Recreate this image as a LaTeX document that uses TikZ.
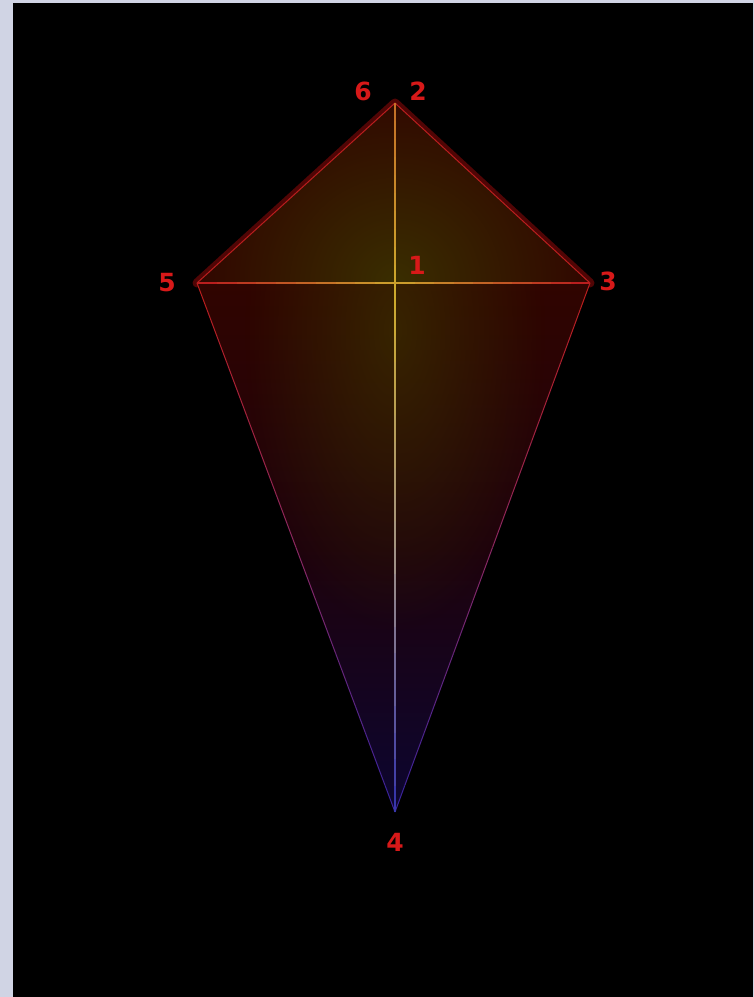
\documentclass[tikz,border=0pt]{standalone}
\usepackage{fontspec}
\setsansfont{DejaVu Sans}
\usetikzlibrary{calc, fadings}

\definecolor{FrameBlue}{RGB}{208,212,228}
\definecolor{NumRed}{RGB}{215,25,25}
\definecolor{EdgeRed}{RGB}{185,30,30}
\definecolor{EdgePink}{RGB}{135,40,100}
\definecolor{RimRed}{RGB}{80,5,5}
\definecolor{EdgeBlue}{RGB}{50,35,160}
\definecolor{SpineGold}{RGB}{205,170,45}
\definecolor{SpineGrey}{RGB}{160,145,135}
\definecolor{SpineBlue}{RGB}{45,45,175}
\definecolor{GlowOlive}{RGB}{58,46,0}
\definecolor{TopDark}{RGB}{48,4,0}
\definecolor{LowTop}{RGB}{48,4,0}
\definecolor{LowMid}{RGB}{30,2,12}
\definecolor{LowBot}{RGB}{12,6,48}

\tikzfading[name=glowfade, inner color=transparent!0, outer color=transparent!100]

\begin{document}
\begin{tikzpicture}[x=1pt, y=-1pt,
  num/.style={font=\sffamily\bfseries\fontsize{25}{25}\selectfont, text=NumRed, inner sep=0pt},
  rim/.style={draw=RimRed, line width=9pt, line cap=round, line join=round},
  edge/.style={draw=EdgeRed, line width=1pt}
]

% frame and screen
\useasboundingbox (0,0) rectangle (754,997);
\fill[FrameBlue] (0,0) rectangle (754,997);
\fill[black] (13,3) rectangle (753,997);

% kite corners
\coordinate (top) at (395,103);
\coordinate (left) at (197,283);
\coordinate (right) at (590,283);
\coordinate (mid) at (395,283);
\coordinate (bot) at (395,812);

% dark rim round the upper edges
\draw[rim] (left) -- (top) -- (right);

% upper panel
\begin{scope}
  \clip (top) -- (right) -- (left) -- cycle;
  \fill[TopDark] (left) rectangle (right |- top);
  \fill[GlowOlive, path fading=glowfade] (mid) circle (210);
\end{scope}

% lower panel
\begin{scope}
  \clip (left) -- (right) -- (bot) -- cycle;
  \shade[top color=LowTop, bottom color=LowBot, middle color=LowMid] (left) rectangle (right |- bot);
  \fill[GlowOlive, path fading=glowfade, opacity=0.75] (395,330) ellipse (150 and 300);
\end{scope}

% upper edges
\draw[edge] (left) -- (top) -- (right);

% lower edges and lower spine, red or gold fading to blue
\foreach \i in {0,...,19} {
  \pgfmathsetmacro{\a}{\i/20}
  \pgfmathsetmacro{\b}{(\i+1)/20}
  \pgfmathtruncatemacro{\mix}{min(100,max(0,100-10*\i))}
  \pgfmathtruncatemacro{\low}{min(100,max(0,200-10*\i))}
  \ifnum\i<10
    \def\edgecol{EdgeRed!\mix!EdgePink}
    \def\spinecol{SpineGold!\mix!SpineGrey}
  \else
    \def\edgecol{EdgePink!\low!EdgeBlue}
    \def\spinecol{SpineGrey!\low!SpineBlue}
  \fi
  \draw[line width=1pt, draw=\edgecol] ($(left)!\a!(bot)$) -- ($(left)!\b!(bot)$);
  \draw[line width=1pt, draw=\edgecol] ($(right)!\a!(bot)$) -- ($(right)!\b!(bot)$);
  \draw[line width=1.5pt, draw=\spinecol] ($(mid)!\a!(bot)$) -- ($(mid)!\b!(bot)$);
}

% cross bar and upper spine
\foreach \i in {0,...,9} {
  \pgfmathsetmacro{\a}{\i/10}
  \pgfmathsetmacro{\b}{(\i+1)/10}
  \pgfmathtruncatemacro{\mix}{10*\i}
  \draw[line width=1.5pt, draw=SpineGold!\mix!EdgeRed] ($(left)!\a!(mid)$) -- ($(left)!\b!(mid)$);
  \draw[line width=1.5pt, draw=SpineGold!\mix!EdgeRed] ($(right)!\a!(mid)$) -- ($(right)!\b!(mid)$);
  \pgfmathtruncatemacro{\up}{60+4*\i}
  \draw[line width=1.5pt, draw=SpineGold!\up!EdgeRed] ($(top)!\a!(mid)$) -- ($(top)!\b!(mid)$);
}

% corner numbers
\node[num] (n6) at (363,91) {6};
\node[num] (n2) at (418,91) {2};
\node[num] (n5) at (167,283) {5};
\node[num] (n1) at (417,265) {1};
\node[num] (n3) at (608,281) {3};
\node[num] (n4) at (395,842) {4};

\end{tikzpicture}
\end{document}
